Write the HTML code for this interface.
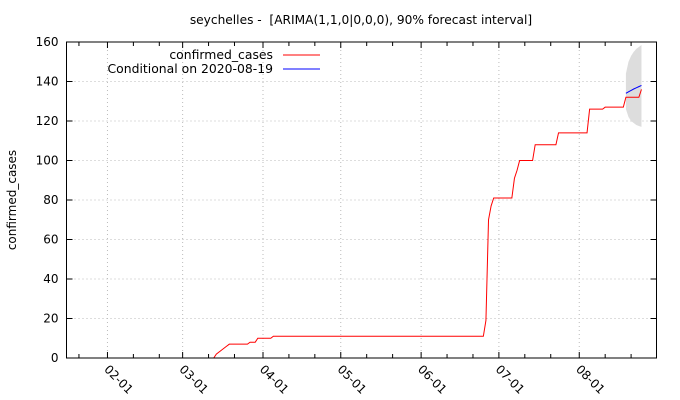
<!DOCTYPE html>
<html><head><meta charset="utf-8"><style>
body{margin:0;background:#fff;}
svg{display:block;font-family:"DejaVu Sans","Liberation Sans",sans-serif;}
</style></head><body>
<svg id="chart" width="680" height="400" xmlns="http://www.w3.org/2000/svg">
<text x="361" y="24" font-size="12.2" text-anchor="middle">seychelles - &#160;[ARIMA(1,1,0|0,0,0), 90% forecast interval]</text>
<text transform="translate(16,200) rotate(-90)" font-size="12" text-anchor="middle">confirmed_cases</text>
<g id="grid"></g>
<g id="band"></g>
<g id="series"></g>
<g id="axes"></g>
<g>
<text x="273" y="59" font-size="12.4" text-anchor="end">confirmed_cases</text>
<line x1="283" y1="55" x2="320" y2="55" stroke="#f00"/>
<text x="273" y="73" font-size="12.4" text-anchor="end">Conditional on 2020-08-19</text>
<line x1="283" y1="69" x2="320" y2="69" stroke="#00f"/>
</g>
</svg>
<script>
const dates=["2020-03-13","2020-03-14","2020-03-16","2020-03-17","2020-03-18","2020-03-19","2020-03-26","2020-03-27","2020-03-29","2020-03-30","2020-04-04","2020-04-05","2020-06-25","2020-06-26","2020-06-27","2020-06-28","2020-06-29","2020-07-06","2020-07-07","2020-07-08","2020-07-09","2020-07-14","2020-07-15","2020-07-23","2020-07-24","2020-08-04","2020-08-05","2020-08-10","2020-08-11","2020-08-18","2020-08-19","2020-08-24","2020-08-25"];
const cases=[0,2,4,5,6,7,7,8,8,10,10,11,11,19,70,77,81,81,91,95,100,100,108,108,114,114,126,126,127,127,132,132,136];
const fcDates=["2020-08-19","2020-08-20","2020-08-21","2020-08-22","2020-08-23","2020-08-24","2020-08-25"];
const fcMean=[134,134.8,135.5,136.2,136.8,137.4,138];
const fcUpper=[144,150,153,155,156.5,157.5,158.5];
const fcLower=[126,122,120,119,118,117.5,117];
const yTicks=[0,20,40,60,80,100,120,140,160];
const xTickLabels=["02-01","03-01","04-01","05-01","06-01","07-01","08-01"];

const NS="http://www.w3.org/2000/svg";
const L=66.5,R=656.5,T=42,B=358;
const day=s=>(Date.UTC(+s.slice(0,4),+s.slice(5,7)-1,+s.slice(8,10))-Date.UTC(2020,0,1))/864e5;
const D0=15.2,D1=242.8;
const xs=d=>L+(d-D0)/(D1-D0)*(R-L);
const ys=v=>B-v/160*(B-T);
function mk(tag,attrs,parent){const e=document.createElementNS(NS,tag);for(const k in attrs)e.setAttribute(k,attrs[k]);parent.appendChild(e);return e;}
const grid=document.getElementById('grid'),axes=document.getElementById('axes'),series=document.getElementById('series'),band=document.getElementById('band');
yTicks.forEach(v=>{const y=ys(v);
 if(v>0&&v<160){const g=mk('line',{x1:L,x2:R,y1:y,y2:y,stroke:'#bbb','stroke-dasharray':'1,3'},grid);
 
 }
 mk('line',{x1:L,x2:L+6,y1:y,y2:y,stroke:'#000'},axes);
 mk('line',{x1:R,x2:R-6,y1:y,y2:y,stroke:'#000'},axes);
 const t=mk('text',{x:L-8,y:y+4,'font-size':12,'text-anchor':'end'},axes);t.textContent=v;
 
 
});
for(let m=1;m<=8;m++){[1,11,21].forEach(dd=>{const d=day("2020-"+String(m).padStart(2,'0')+"-"+String(dd).padStart(2,'0'));const x=xs(d);if(x<L||x>R)return;
 const len=dd===1?6:4;
 mk('line',{x1:x,x2:x,y1:B,y2:B-len,stroke:'#000'},axes);
 mk('line',{x1:x,x2:x,y1:T,y2:T+len,stroke:'#000'},axes);
});}
xTickLabels.forEach(lab=>{const x=xs(day("2020-"+lab));
 const g=mk('line',{x1:x,x2:x,y1:T,y2:B,stroke:'#bbb','stroke-dasharray':'1,3'},grid);
 
 
 const t=mk('text',{transform:`translate(${x-4},${B+12}) rotate(45)`,'font-size':12},axes);t.textContent=lab;
 
 
});
mk('rect',{x:L,y:T,width:R-L,height:B-T,fill:'none',stroke:'#000'},axes);
let pts=fcDates.map((d,i)=>xs(day(d))+','+ys(fcUpper[i]));
pts=pts.concat(fcDates.map((d,i)=>xs(day(d))+','+ys(fcLower[i])).reverse());
const bp=mk('polygon',{points:pts.join(' '),fill:'#ddd'},band);


const red=mk('polyline',{points:dates.map((d,i)=>xs(day(d))+','+ys(cases[i])).join(' '),fill:'none',stroke:'#f00','stroke-width':1},series);


const blue=mk('polyline',{points:fcDates.map((d,i)=>xs(day(d))+','+ys(fcMean[i])).join(' '),fill:'none',stroke:'#00f','stroke-width':1},series);


</script>
</body></html>
